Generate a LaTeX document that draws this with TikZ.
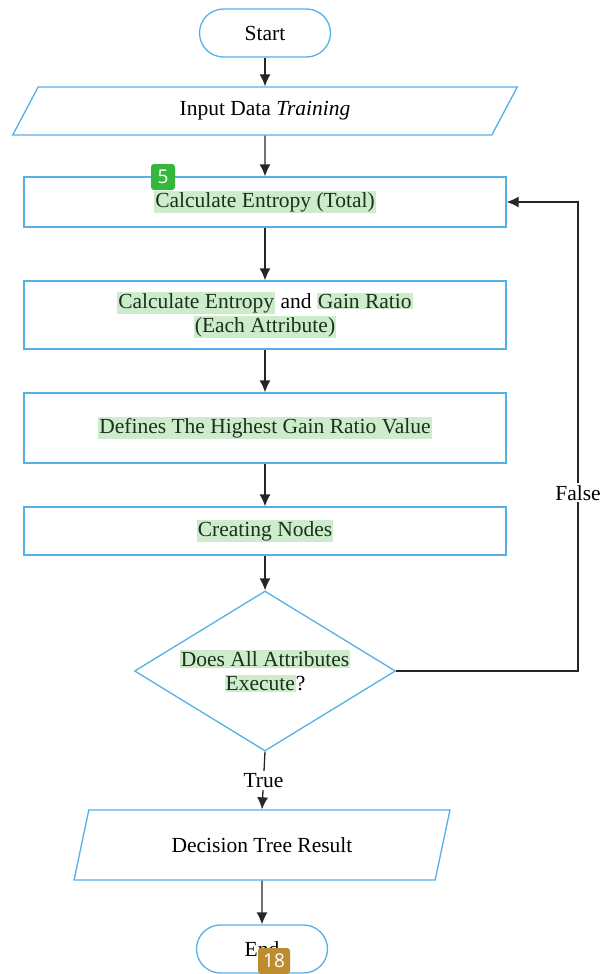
\documentclass[tikz,border=0pt]{standalone}
\usepackage{fontspec}
\setmainfont{Liberation Serif}
\newfontfamily\badgefont{Open Sans}
\usepackage{tikz}
\usetikzlibrary{shapes.geometric, arrows.meta, positioning}

\definecolor{flowblue}{RGB}{86,176,232}
\definecolor{hlgreen}{RGB}{204,236,204}
\definecolor{hltext}{RGB}{28,48,28}
\definecolor{badgegreen}{RGB}{52,184,60}
\definecolor{badgebrown}{RGB}{190,140,48}

\newcommand{\hl}[1]{{\setlength{\fboxsep}{1pt}\colorbox{hlgreen}{\textcolor{hltext}{#1}}}}

\begin{document}
\begin{tikzpicture}[x=1pt, y=-1pt, font=\fontsize{21.5}{26}\selectfont]
\tikzset{terminal/.style = {draw=flowblue, line width=1.3pt, rounded corners=24pt,
                            minimum width=131pt, minimum height=48pt, inner sep=0pt},
         process/.style = {draw=flowblue, line width=1.3pt, rectangle,
                           minimum width=482pt, align=center, inner sep=0pt},
         io/.style = {draw=flowblue, line width=1.3pt, trapezium, trapezium stretches=true,
                      trapezium left angle=63, trapezium right angle=117, inner sep=0pt},
         decision/.style = {draw=flowblue, line width=1.3pt, diamond, aspect=1.63, align=center,
                            minimum width=261pt, minimum height=160pt, inner sep=0pt},
         edge/.style = {-{Latex[length=12pt, width=11pt]}, line width=1.3pt, draw=black!85},
         badge/.style = {rounded corners=3pt, text=white, font=\badgefont\fontsize{19}{22}\selectfont,
                         minimum height=26pt, inner sep=0pt}}
\useasboundingbox (0,0) rectangle (603,974);
            % vertices
	\node[terminal] (start) at (265,33) {Start};
	\node[io, minimum width=506pt, minimum height=48pt] (input) at (265,111) {Input Data \textit{Training}};
	\node[process, minimum height=50pt] (entropy) at (265,202) {\hl{Calculate Entropy (Total)}};
	\node[process, minimum height=68pt] (gain) at (265,315)
	     {\hl{Calculate Entropy} and \hl{Gain Ratio}\\[-2pt] \hl{(Each Attribute)}};
	\node[process, minimum height=70pt] (highest) at (265,428) {\hl{Defines The Highest Gain Ratio Value}};
	\node[process, minimum height=48pt] (nodes) at (265,531) {\hl{Creating Nodes}};
	\node[decision] (check) at (265,671) {\hl{Does All Attributes}\\[-2pt] \hl{Execute}?};
	\node[io, minimum width=376pt, minimum height=70pt] (result) at (262,845) {Decision Tree Result};
	\node[terminal] (end) at (262,949) {End};
	\coordinate (turn) at (578,671);
            % badges
	\node[badge, fill=badgegreen, minimum width=24pt] (b5) at (163,177) {5};
	\node[badge, fill=badgebrown, minimum width=32pt] (b18) at (274,961) {18};
            %edges
	\draw[edge] (start) -- (input);
	\draw[edge] (input) -- (entropy);
	\draw[edge] (entropy) -- (gain);
	\draw[edge] (gain) -- (highest);
	\draw[edge] (highest) -- (nodes);
	\draw[edge] (nodes) -- (check);
	\draw[edge] (check.south) -- node[fill=white, inner sep=2pt] {True} (result.north);
	\draw[edge] (result) -- (end);
	\draw[edge] (check.east) -- (turn) |- node[pos=0.19, fill=white, inner sep=2pt] {False} (entropy.east);
\end{tikzpicture}
\end{document}
